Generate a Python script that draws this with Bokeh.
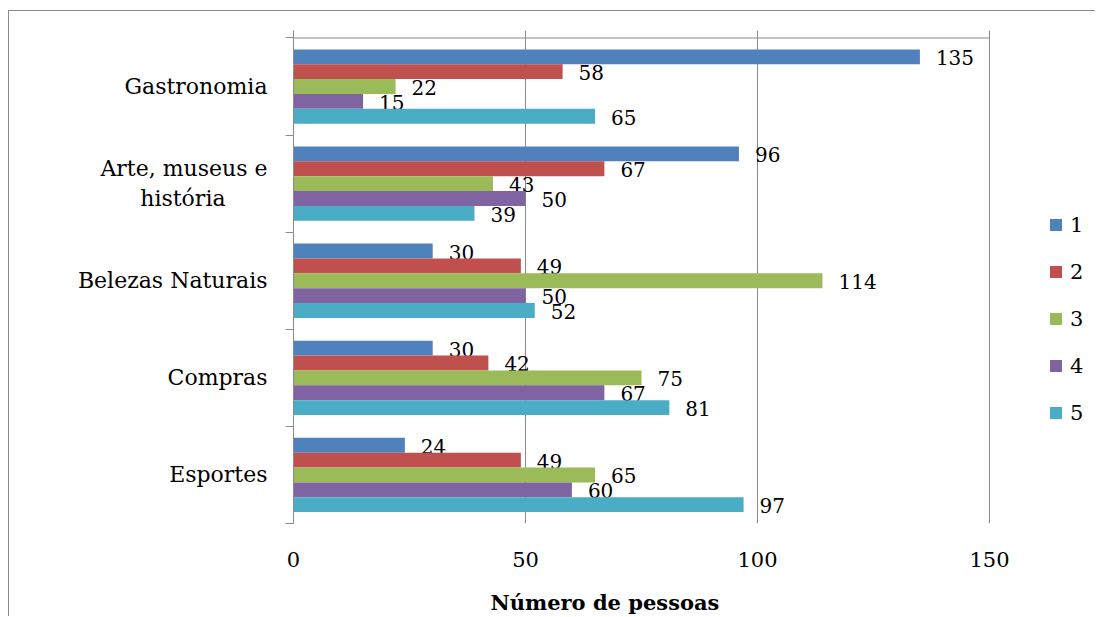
from bokeh.plotting import figure
from bokeh.models import (ColumnDataSource, Range1d, FixedTicker,
                          Legend, LegendItem, Title)
from bokeh.core.properties import value
from bokeh.embed import file_html
from bokeh.resources import INLINE

# Categories, listed top to bottom as they appear on the chart
# (the non-breaking spaces keep the second line centred under the first)
categories = ["Gastronomia", "Arte, museus e\nhistória\u00a0\u00a0\u00a0\u00a0\u00a0\u00a0",
              "Belezas Naturais", "Compras", "Esportes"]
series_names = ["1", "2", "3", "4", "5"]
serie_1 = [135, 96, 30, 30, 24]
serie_2 = [58, 67, 49, 42, 49]
serie_3 = [22, 43, 114, 75, 65]
serie_4 = [15, 50, 50, 67, 60]
serie_5 = [65, 39, 52, 81, 97]
series = [serie_1, serie_2, serie_3, serie_4, serie_5]
colors = ["#4F81BD", "#C0504D", "#9BBB59", "#8064A2", "#4BACC6"]
x_ticks = [0, 50, 100, 150]
x_title = "Número de pessoas"

FONT = "DejaVu Serif"
GRAY = "#8a8a8a"
BAR_H = 0.153     # bar thickness in category units
TICK_PAD = 0.077  # room above the top category for the outward value ticks

# plotting area: the value scale spans 696 px, the frame continues to the
# right edge to leave room for the legend
W, H = 1087, 606
LEFT, TOP, BOTTOM = 284, 19, 94
SCALE_PX = 696
x_end = x_ticks[-1] * (W - LEFT) / SCALE_PX

n_cat = len(categories)
# category centres: first category at the top
centers = [n_cat - i - 0.5 for i in range(n_cat)]
boundaries = list(range(n_cat + 1))

p = figure(width=W, height=H, x_range=Range1d(0, x_end),
           y_range=Range1d(0, n_cat + TICK_PAD), output_backend="svg",
           toolbar_location=None, min_border_left=LEFT, min_border_right=0,
           min_border_top=TOP, min_border_bottom=BOTTOM)
p.styles = {"margin-left": "8px", "margin-top": "10px",
            "border-left": f"1px solid {GRAY}", "border-top": f"1px solid {GRAY}"}
p.outline_line_color = None
p.background_fill_color = "white"
p.border_fill_color = "white"

# vertical gridlines (they also run up past the top line as tick marks)
p.xgrid.ticker = FixedTicker(ticks=x_ticks)
p.xgrid.grid_line_color = GRAY
p.xgrid.grid_line_width = 1
p.ygrid.grid_line_color = None

# value axis line along the top category boundary
p.segment(x0=[x_ticks[0]], y0=[n_cat], x1=[x_ticks[-1]], y1=[n_cat],
          line_color=GRAY, line_width=1)

# bottom axis: only tick labels; a blank axis label spaces out the title
xax = p.xaxis[0]
xax.ticker = FixedTicker(ticks=x_ticks)
xax.axis_line_color = None
xax.major_tick_line_color = None
xax.minor_tick_line_color = None
xax.major_label_text_font = FONT
xax.major_label_text_font_size = "21px"
xax.major_label_text_color = "black"
xax.major_label_standoff = 22
xax.axis_label = "\u00a0"
xax.axis_label_standoff = 0
xax.axis_label_text_font = FONT
xax.axis_label_text_font_size = "11px"

# left axis: labels at category centres, tick marks at category boundaries
yax = p.yaxis[0]
yax.ticker = FixedTicker(ticks=centers, minor_ticks=boundaries)
yax.major_label_overrides = {c: name for c, name in zip(centers, categories)}
yax.axis_line_color = GRAY
yax.major_tick_line_color = None
yax.major_tick_out = 0
yax.major_tick_in = 0
yax.minor_tick_line_color = GRAY
yax.minor_tick_out = 8
yax.minor_tick_in = 0
yax.major_label_text_font = FONT
yax.major_label_text_font_size = "22px"
yax.major_label_text_color = "black"
yax.major_label_standoff = 18

# axis title below the tick labels
p.add_layout(Title(text=x_title, align="left", offset=197, standoff=4,
                   text_font=FONT, text_font_size="21px",
                   text_font_style="bold", text_color="black"), "below")

items = []
for k, (name, vals, col) in enumerate(zip(series_names, series, colors)):
    ys = [c + (2 - k) * BAR_H for c in centers]
    src = ColumnDataSource(dict(y=ys, v=vals, lab=[str(v) for v in vals]))
    r = p.hbar(y="y", left=0, right="v", height=BAR_H, source=src,
               fill_color=col, line_color=None)
    p.text(x="v", y="y", text="lab", source=src, x_offset=16, y_offset=1,
           text_font=value(FONT), text_font_size="20px", text_color="black",
           text_align="left", text_baseline="middle")
    items.append(LegendItem(label=name, renderers=[r]))

legend = Legend(items=items, location=(755, 98), orientation="vertical",
                glyph_width=15, glyph_height=15, label_height=25, spacing=22,
                padding=0, margin=0, label_standoff=7,
                label_text_font=FONT, label_text_font_size="21px",
                label_text_color="black", border_line_color=None,
                background_fill_alpha=0)
p.add_layout(legend, "center")

open("out.html", "w").write(file_html(p, INLINE))
